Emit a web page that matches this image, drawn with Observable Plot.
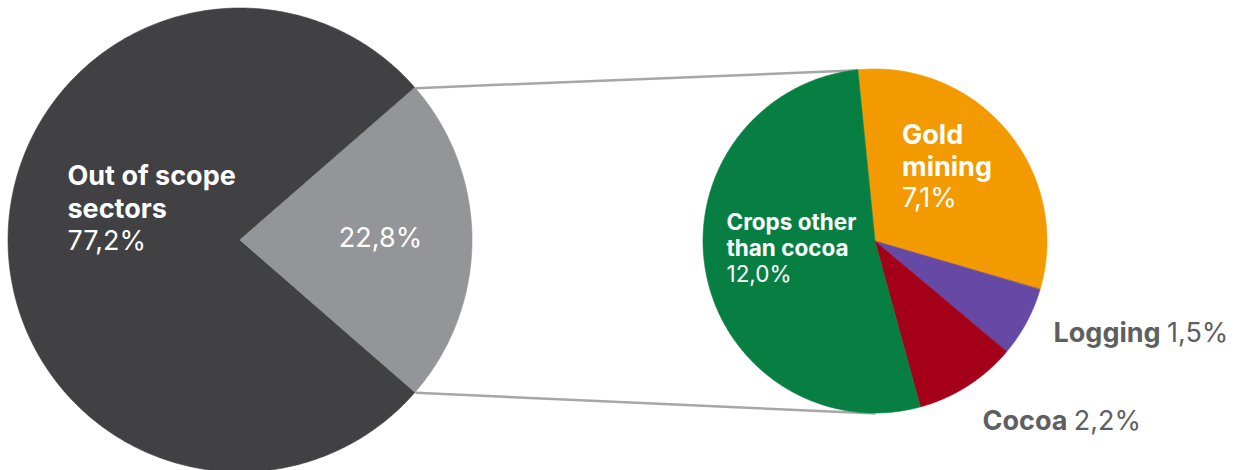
<!DOCTYPE html>
<html><head><meta charset="utf-8">
<script src="https://cdn.jsdelivr.net/npm/d3@7"></script>
<script src="https://cdn.jsdelivr.net/npm/@observablehq/plot@0.6"></script>
<style>html,body{margin:0;padding:0;background:#fff;overflow:hidden;} svg{display:block;}</style>
</head><body><div id="chart"></div>
<script>
// ---- data ----
const outerCategories = ["Out of scope sectors", "In scope sectors"];
const outerValues = [77.2, 22.8];
const outerLabels = ["Out of scope\nsectors", ""];
const innerCategories = ["Gold mining", "Logging", "Cocoa", "Crops other than cocoa"];
const innerValues = [7.1, 1.5, 2.2, 12.0];
const innerLabels = ["Gold\nmining", "Logging", "Cocoa", "Crops other\nthan cocoa"];
const outerColors = ["#414042", "#939598"];
const innerColors = ["#F39A00", "#6549A5", "#A50019", "#077F43"];

// ---- layout ----
const W = 1235, H = 470;
const FONT = "Inter";
const big = {cx: 240, cy: 240, r: 232};
const small = {cx: 875, cy: 241, r: 172};
const smallStart = -0.1; // radians, clockwise from 12 o'clock
const fmt = v => d3.format(".1f")(v).replace(".", ",") + "%";

const pt = (g, a) => ({x: g.cx + g.r * Math.sin(a), y: g.cy - g.r * Math.cos(a)});

function wedges(cats, vals, g, start) {
  const arcs = d3.pie().sort(null).startAngle(start).endAngle(start + 2 * Math.PI)(vals);
  const pts = [];
  arcs.forEach((a, i) => {
    const n = Math.max(2, Math.ceil((a.endAngle - a.startAngle) / (Math.PI / 360)));
    for (let k = 0; k <= n; k++) {
      const t = a.startAngle + (a.endAngle - a.startAngle) * k / n;
      const p = pt(g, t);
      pts.push({cat: cats[i], x1: g.cx, y1: g.cy, x2: p.x, y2: p.y});
    }
  });
  return {arcs, pts};
}

const outerTotal = d3.sum(outerValues);
const bigStart = Math.PI / 2 + Math.PI * outerValues[1] / outerTotal;
const outer = wedges(outerCategories, outerValues, big, bigStart);
const inner = wedges(innerCategories, innerValues, small, smallStart);

// connectors: from in-scope slice edges of big pie to small pie
const inScope = outer.arcs[1];
const connectors = [
  {a: pt(big, inScope.startAngle), b: pt(small, smallStart)},
  {a: pt(big, inScope.endAngle), b: pt(small, Math.PI)}
];

// text measurement
const ctx = document.createElement("canvas").getContext("2d");
const measure = (t, size, weight) => { ctx.font = `${weight} ${size}px ${FONT}`; return ctx.measureText(t).width; };

// label layout: x = left edge, y = baseline of first line, step = line spacing
const labelLayout = {
  "Out of scope sectors": {x: 67, y: 184.5, size: 27, step: 32.5, fill: "#fff", mode: "stack"},
  "In scope sectors": {x: 380, y: 246, size: 27, step: 32.5, fill: "#fff", mode: "center"},
  "Gold mining": {x: 901.5, y: 143.5, size: 27, step: 31.7, fill: "#fff", mode: "stack"},
  "Crops other than cocoa": {x: 726, y: 229.3, size: 22.5, step: 26.2, fill: "#fff", mode: "stack"},
  "Logging": {x: 1053, y: 341.7, size: 27, step: 0, fill: "#5E5F61", mode: "inline"},
  "Cocoa": {x: 982, y: 429.3, size: 27, step: 0, fill: "#5E5F61", mode: "inline"}
};

const texts = [];
const allCats = outerCategories.concat(innerCategories);
const allVals = outerValues.concat(innerValues);
const allLabels = outerLabels.concat(innerLabels);
allCats.forEach((c, i) => {
  const L = labelLayout[c];
  const name = allLabels[i];
  const val = fmt(allVals[i]);
  const base = {size: L.size, fill: L.fill};
  if (L.mode === "stack") {
    const lines = name.split("\n");
    lines.forEach((ln, k) => texts.push({...base, x: L.x, y: L.y + k * L.step, text: ln, weight: "bold", anchor: "start"}));
    texts.push({...base, x: L.x, y: L.y + lines.length * L.step, text: val, weight: "normal", anchor: "start"});
  } else if (L.mode === "center") {
    texts.push({...base, x: L.x, y: L.y, text: val, weight: "normal", anchor: "middle"});
  } else {
    texts.push({...base, x: L.x, y: L.y, text: name, weight: "bold", anchor: "start"});
    const w = measure(name + " ", L.size, "bold");
    texts.push({...base, x: L.x + w, y: L.y, text: val, weight: "normal", anchor: "start"});
  }
});

const textMarks = texts.map(d => Plot.text([d], {
  x: "x", y: "y", text: "text", textAnchor: d.anchor, lineAnchor: "bottom",
  fontSize: d.size, fill: d.fill, fontWeight: d.weight, fontFamily: FONT
}));

const chart = Plot.plot({
  width: W, height: H,
  margin: 0,
  x: {domain: [0, W], range: [0, W], axis: null},
  y: {domain: [0, H], range: [0, H], axis: null},
  color: {domain: allCats, range: outerColors.concat(innerColors)},
  style: {fontFamily: FONT, background: "#fff"},
  marks: [
    Plot.link(connectors, {x1: d => d.a.x, y1: d => d.a.y, x2: d => d.b.x, y2: d => d.b.y, stroke: "#A7A7A7", strokeWidth: 2.5}),
    Plot.area(outer.pts, {x1: "x1", y1: "y1", x2: "x2", y2: "y2", z: "cat", fill: "cat", stroke: "cat", strokeWidth: 0.6, curve: "linear"}),
    Plot.area(inner.pts, {x1: "x1", y1: "y1", x2: "x2", y2: "y2", z: "cat", fill: "cat", stroke: "cat", strokeWidth: 0.6, curve: "linear"}),
    ...textMarks
  ]
});
document.getElementById("chart").append(chart);
</script>
</body></html>
